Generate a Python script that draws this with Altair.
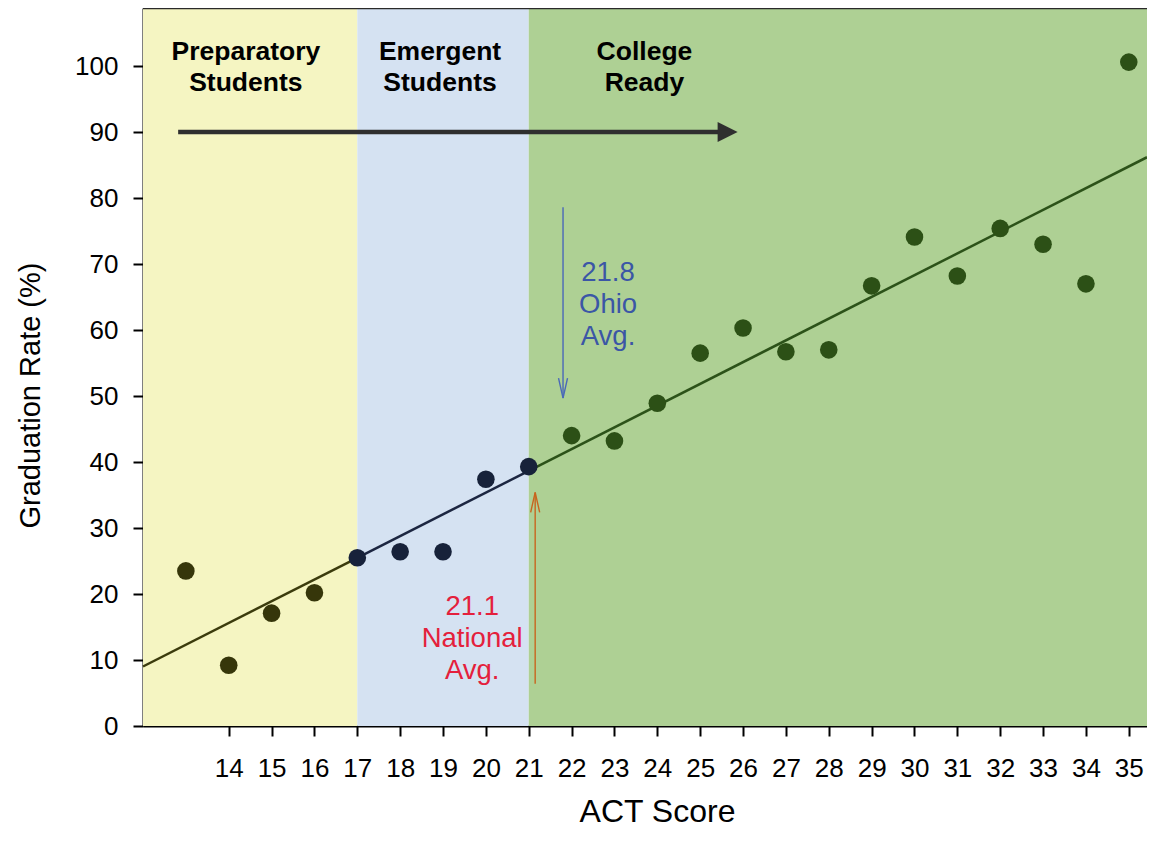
import altair as alt
import pandas as pd

# ---- data ----
act = list(range(13, 36))
rate = [23.5, 9.2, 17.1, 20.2, 25.5, 26.4, 26.4, 37.4, 39.3, 44.0, 43.2, 48.9,
        56.5, 60.3, 56.7, 57.0, 66.7, 74.1, 68.2, 75.4, 73.0, 67.0, 100.6]
point_zone = ["prep"] * 4 + ["emerg"] * 5 + ["college"] * 14

zone_key = ["prep", "emerg", "college"]
zone_start = [12, 17, 21]
zone_end = [17, 21, 35.425]
zone_fill = ["#f5f5c2", "#d5e2f2", "#aed094"]
zone_label = ["Preparatory\nStudents", "Emergent\nStudents", "College\nReady"]
zone_label_x = [14.4, 18.93, 23.7]
zone_label_y = [102.2, 102.2, 102.2]
trend_color = ["#3b3b0c", "#1c2641", "#2c5219"]
point_color = {"prep": "#36360a", "emerg": "#17223a", "college": "#2c5016"}

note_text = ["21.8\nOhio\nAvg.", "21.1\nNational\nAvg."]
note_x = [22.85, 19.68]
note_y = [68.6, 18.0]
note_color = ["#3b56a6", "#e4203c"]

ohio_avg = 21.8
ohio_from, ohio_to = 78.6, 49.7
nat_avg = 21.15
nat_from, nat_to = 6.4, 35.4

prog_y = 90
prog_x0, prog_x1, prog_head = 12.82, 25.46, 25.64

X_MIN, X_MAX = 12, 35.425
Y_MIN, Y_MAX = 0, 108.8
FONT = "Liberation Sans"

# ---- scales / axes ----
xs = alt.Scale(domain=[X_MIN, X_MAX], nice=False, zero=False)
ys = alt.Scale(domain=[Y_MIN, Y_MAX], nice=False, zero=False)
ax_x = alt.Axis(values=list(range(14, 36)), title="ACT Score", grid=False,
                labelFont=FONT, labelFontSize=26, labelColor="black", labelPadding=19,
                tickSize=10, tickWidth=2, tickColor="black",
                domainColor="black", domainWidth=2,
                titleFont=FONT, titleFontSize=32, titleFontWeight="normal", titleColor="black",
                titleX=514, titleY=95, titleAlign="center", titleBaseline="alphabetic",
                labelFlush=False, labelOverlap=False)
ax_y = alt.Axis(values=list(range(0, 101, 10)), title="Graduation Rate (%)", grid=False,
                labelFont=FONT, labelFontSize=26, labelColor="black", labelPadding=15,
                tickSize=10, tickWidth=2, tickColor="black",
                domainColor="black", domainWidth=2,
                titleFont=FONT, titleFontSize=29, titleFontWeight="normal", titleColor="black",
                titleAngle=-90, titleX=-113, titleY=387, titleAlign="center", titleBaseline="middle",
                labelFlush=False, labelOverlap=False)


def X(f, **kw):
    return alt.X(f, scale=xs, axis=ax_x, **kw)


def Y(f, **kw):
    return alt.Y(f, scale=ys, axis=ax_y, **kw)


# ---- tables ----
pts = pd.DataFrame({"act": act, "rate": rate, "zone": point_zone})
pts["col"] = pts["zone"].map(point_color)
zones = pd.DataFrame({"key": zone_key, "start": zone_start, "end": zone_end,
                      "fill": zone_fill, "label": zone_label,
                      "lx": zone_label_x, "ly": zone_label_y,
                      "y0": [Y_MIN] * 3, "y1": [Y_MAX] * 3})
notes = pd.DataFrame({"text": note_text, "x": note_x, "y": note_y, "col": note_color})

# ---- layers ----
bg = alt.Chart(zones).mark_rect(opacity=1).encode(
    x=X("start:Q"), x2="end:Q", y=Y("y0:Q"), y2="y1:Q",
    fill=alt.Fill("fill:N", scale=None))

top = alt.Chart(pd.DataFrame({"a": [X_MIN], "b": [X_MAX], "y": [Y_MAX]})).mark_rule(
    color="#2a2a2a", strokeWidth=2.5).encode(x=X("a:Q"), x2="b:Q", y=Y("y:Q"))

trends = []
for s, e, c in zip(zone_start, zone_end, trend_color):
    trends.append(
        alt.Chart(pts).transform_regression("act", "rate", extent=[s, e])
        .mark_line(color=c, strokeWidth=2.5).encode(x=X("act:Q"), y=Y("rate:Q")))

dots = alt.Chart(pts).mark_circle(size=310, opacity=1).encode(
    x=X("act:Q"), y=Y("rate:Q"), color=alt.Color("col:N", scale=None))

labels = alt.Chart(zones).mark_text(
    font=FONT, fontSize=26.5, fontWeight="bold", color="black", lineBreak="\n",
    lineHeight=31, align="center", baseline="middle").encode(
    x=X("lx:Q"), y=Y("ly:Q"), text="label:N")

note_lbl = alt.Chart(notes).mark_text(
    font=FONT, fontSize=27.5, lineBreak="\n", lineHeight=32,
    align="center", baseline="middle").encode(
    x=X("x:Q"), y=Y("y:Q"), text="text:N", color=alt.Color("col:N", scale=None))

prog = alt.Chart(pd.DataFrame({"a": [prog_x0], "b": [prog_x1], "y": [prog_y]})).mark_rule(
    color="#2f2f2f", strokeWidth=4.5).encode(x=X("a:Q"), x2="b:Q", y=Y("y:Q"))
prog_head_m = alt.Chart(pd.DataFrame({"x": [prog_head], "y": [prog_y]})).mark_point(
    shape="M-1,-1L1,0L-1,1Z", filled=True, size=400, color="#2f2f2f", opacity=1).encode(
    x=X("x:Q"), y=Y("y:Q"))

ohio_line = alt.Chart(pd.DataFrame({"x": [ohio_avg], "a": [ohio_from], "b": [ohio_to]})).mark_rule(
    color="#4a68b8", strokeWidth=1.4).encode(x=X("x:Q"), y=Y("a:Q"), y2="b:Q")
ohio_head = alt.Chart(pd.DataFrame({"x": [ohio_avg], "y": [ohio_to + 1.5]})).mark_point(
    shape="M-0.45,-1L0,1L0.45,-1", filled=False, size=400, color="#4a68b8",
    strokeWidth=1.4, opacity=1).encode(x=X("x:Q"), y=Y("y:Q"))

nat_line = alt.Chart(pd.DataFrame({"x": [nat_avg], "a": [nat_from], "b": [nat_to]})).mark_rule(
    color="#c8641e", strokeWidth=1.4).encode(x=X("x:Q"), y=Y("a:Q"), y2="b:Q")
nat_head = alt.Chart(pd.DataFrame({"x": [nat_avg], "y": [nat_to - 1.5]})).mark_point(
    shape="M-0.45,1L0,-1L0.45,1", filled=False, size=400, color="#c8641e",
    strokeWidth=1.4, opacity=1).encode(x=X("x:Q"), y=Y("y:Q"))

chart = alt.layer(bg, top, *trends, dots, labels, note_lbl, prog, prog_head_m,
                  ohio_line, ohio_head, nat_line, nat_head).properties(
    width=1004, height=718,
    autosize=alt.AutoSizeParams(type="none"),
    padding={"left": 135, "top": 0, "right": 0, "bottom": 102},
    background="white",
).configure_view(stroke=None)

chart.save("out.html", embed_options={"renderer": "svg", "actions": False})
